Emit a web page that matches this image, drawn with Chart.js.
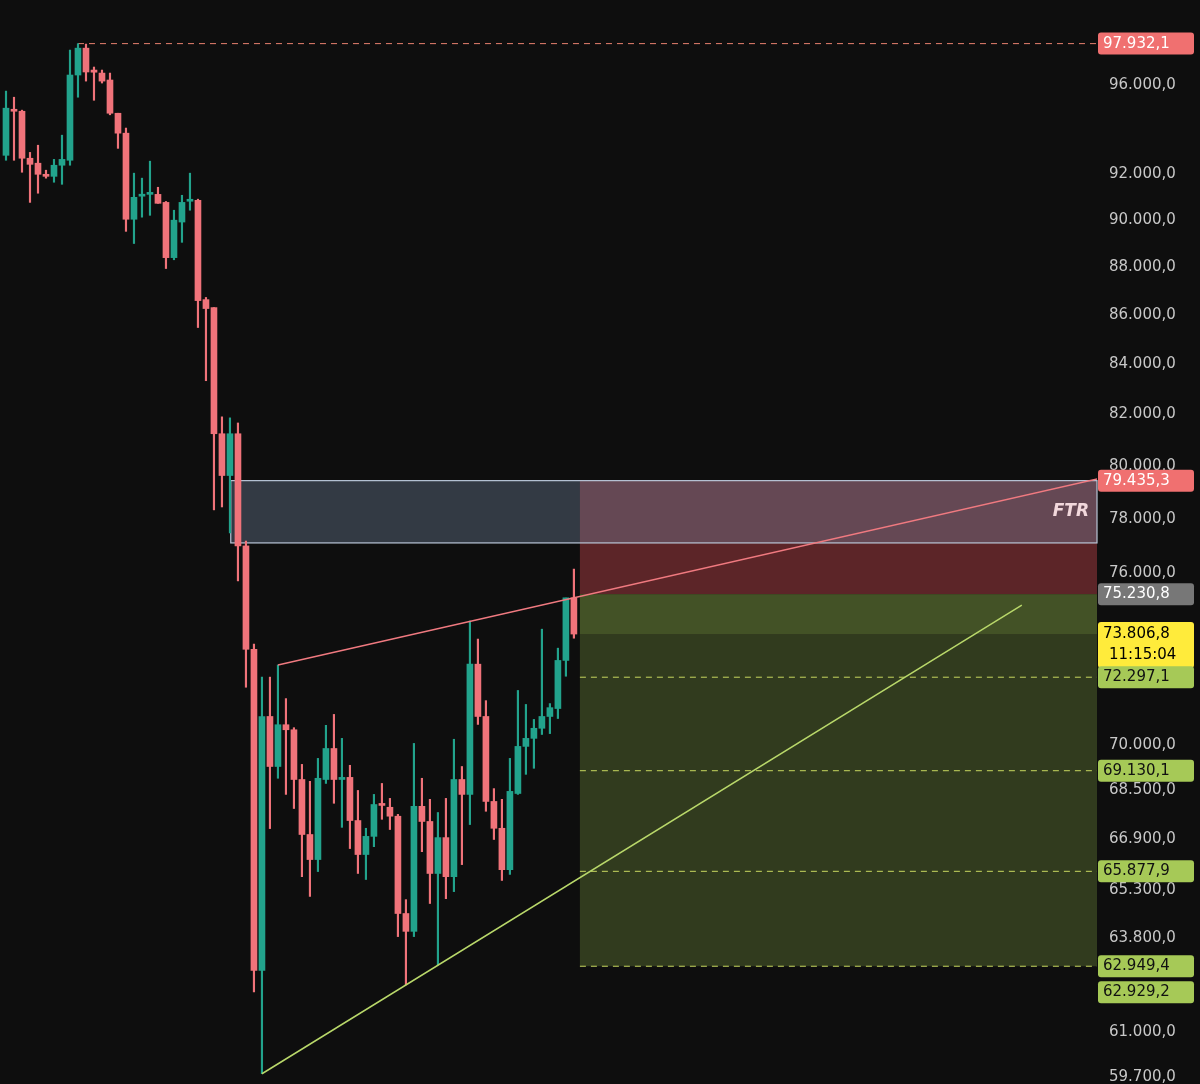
<!DOCTYPE html>
<html><head><meta charset="utf-8">
<script src="https://cdn.jsdelivr.net/npm/chart.js@4.4.0/dist/chart.umd.min.js"></script>
<style>html,body{margin:0;padding:0;background:#0e0e0e;overflow:hidden;}#w{width:1200px;height:1112px;margin-top:-13px;}</style>
</head><body><div id="w"><canvas id="c"></canvas></div>
<script>
const opens  =[92830,94860,94810,92700,92480,91990,91900,92390,92610,96470,97720,96700,96560,96240,94720,93820,90030,91030,91110,91110,90760,88390,89910,90810,90850,86630,86300,81240,79630,81240,76990,73270,62820,70950,69270,70670,70500,68840,67050,66250,68840,69870,68840,68910,67500,66410,66990,68020,67930,67640,64560,64010,67960,67470,65810,66950,65710,68840,68350,72750,70950,68120,67250,65930,68380,69940,70210,70550,70950,71220,72880,75100];
const highs  =[95730,95450,94860,92960,93280,92170,92650,93730,97630,97932,97910,96840,96700,96560,94720,94050,92040,91820,92570,91420,90800,90420,91070,92040,90900,86720,86300,81900,81860,81660,77170,73450,72300,72300,72720,71560,70570,69340,68780,69540,70650,71020,70210,69310,68480,67250,68350,68710,68220,67700,64990,70040,68880,68190,67760,68220,70180,69270,74270,73630,71490,68540,68190,69540,71840,71360,70850,73980,71390,73310,75090,76140];
const lows   =[92610,92610,92080,90760,91160,91820,91640,91550,92390,95450,96190,95310,96100,94650,93140,89510,88990,90120,90200,90720,87930,88300,89040,90420,85480,83330,78330,78440,77470,75710,71950,62180,59790,67240,68880,68350,67890,65710,65090,65870,68710,68060,67280,66600,65810,65620,66660,67540,67210,63850,62390,63850,66500,64870,62990,65020,65240,66090,67370,70680,67800,66890,65590,65780,68350,69010,69210,70340,70370,70880,72330,73660];
const closes =[94950,94810,92700,92430,91990,91900,92390,92650,96470,97720,96610,96600,96190,94720,93820,90030,90980,91080,91150,90720,88390,89990,90760,90850,86590,86260,81240,79630,81240,76990,73270,62820,70950,69270,70670,70500,68840,67050,66250,68880,69870,68840,68910,67500,66410,66990,68020,67990,67640,64560,64010,67960,67470,65810,66950,65710,68840,68350,72750,70950,68120,67250,65930,68450,69940,70210,70550,70950,71250,72880,75100,73807];
const yTicks=[96000,92000,90000,88000,86000,84000,82000,80000,78000,76000,70000,68500,66900,65300,63800,61000,59700];
const athLevel=97932.1, ftrTop=79435.3, ftrBottom=77100, entry=75230.8, lastPrice=73806.8;
const targets=[72297.1,69130.1,65877.9,62949.4];
const extraLevel=62929.2;
const upperLine=[{x:34,y:72720},{x:149.25,y:80390}];
const lowerLine=[{x:32,y:59790},{x:127,y:74840}];

const GREEN='#22a38c', RED='#f0737a';
const idx=opens.map((_,i)=>i);
const cols=idx.map(i=>closes[i]>=opens[i]?GREEN:RED);
const fmt=v=>{const s=v.toFixed(1).split('.');return s[0].replace(/\B(?=(\d{3})+(?!\d))/g,'.')+','+s[1];};

const zones={id:'zones',beforeDatasetsDraw(ch){
  const {ctx,chartArea:a,scales:{x,y}}=ch;
  const X0=x.getPixelForValue(71.75), R=a.right;
  const fx=x.getPixelForValue(28.1);
  ctx.save();
  ctx.fillStyle='rgba(140,52,56,0.62)';
  ctx.fillRect(X0,y.getPixelForValue(ftrTop),R-X0,y.getPixelForValue(entry)-y.getPixelForValue(ftrTop));
  ctx.fillStyle='rgba(78,96,44,0.55)';
  ctx.fillRect(X0,y.getPixelForValue(entry),R-X0,y.getPixelForValue(targets[3])-y.getPixelForValue(entry));
  ctx.fillStyle='rgba(100,125,55,0.35)';
  ctx.fillRect(X0,y.getPixelForValue(entry),R-X0,y.getPixelForValue(lastPrice)-y.getPixelForValue(entry));
  const t=y.getPixelForValue(ftrTop), b=y.getPixelForValue(ftrBottom);
  ctx.fillStyle='rgba(120,140,170,0.35)';
  ctx.fillRect(fx,t,R-fx,b-t);
  ctx.strokeStyle='#b9c6d8';ctx.lineWidth=1.2;ctx.strokeRect(fx,t,R-fx,b-t);
  ctx.fillStyle='#f2d8dc';ctx.font='italic bold 17px "DejaVu Sans"';ctx.textAlign='right';ctx.textBaseline='middle';
  ctx.fillText('FTR',R-8,(t+b)/2);
  ctx.setLineDash([6,5]);ctx.lineWidth=1;
  ctx.strokeStyle='#e8806f';
  let yy=y.getPixelForValue(athLevel);
  ctx.beginPath();ctx.moveTo(x.getPixelForValue(9),yy);ctx.lineTo(R,yy);ctx.stroke();
  ctx.strokeStyle='#c8d860';
  targets.forEach(v=>{const p=y.getPixelForValue(v);ctx.beginPath();ctx.moveTo(X0,p);ctx.lineTo(R,p);ctx.stroke();});
  ctx.restore();
}};
const labels={id:'labels',afterDraw(ch){
  const {ctx,chartArea:a,scales:{y}}=ch;
  ctx.save();
  ctx.font='15px "DejaVu Sans"';ctx.textAlign='left';ctx.textBaseline='middle';
  const box=(v,bg,fg,txt,h,yc)=>{const p=yc!==undefined?yc:y.getPixelForValue(v);
    ctx.fillStyle=bg;ctx.beginPath();ctx.roundRect(a.right+1,p-11,96,h||22,3);ctx.fill();
    ctx.fillStyle=fg;ctx.fillText(txt||fmt(v),a.right+6,p);};
  box(athLevel,'#f07070','#fff');
  box(ftrTop,'#f07070','#fff');
  box(entry,'#777','#fff');
  const lp=y.getPixelForValue(lastPrice);
  ctx.fillStyle='#ffeb3b';ctx.beginPath();ctx.roundRect(a.right+1,lp-12,96,46,3);ctx.fill();
  ctx.fillStyle='#000';ctx.fillText(fmt(lastPrice),a.right+6,lp);ctx.fillText('11:15:04',a.right+12,lp+21);
  targets.forEach(v=>box(v,'#a6c957','#111'));
  box(extraLevel,'#a6c957','#111',fmt(extraLevel),22,y.getPixelForValue(targets[3])+26);
  ctx.restore();
}};

new Chart(document.getElementById('c'),{
  type:'bar',
  data:{datasets:[
    {label:'wick',data:idx.map(i=>({x:i,y:[lows[i],highs[i]]})),backgroundColor:cols,barThickness:1.5,grouped:false,order:2},
    {label:'body',data:idx.map(i=>({x:i,y:[opens[i],closes[i]]})),backgroundColor:cols,barThickness:6,minBarLength:2,grouped:false,order:1},
    {type:'line',label:'upper',data:upperLine,borderColor:'#f07a80',borderWidth:1.5,pointRadius:0,order:0},
    {type:'line',label:'lower',data:lowerLine,borderColor:'#b9d86a',borderWidth:1.5,pointRadius:0,order:0}
  ]},
  options:{responsive:true,maintainAspectRatio:false,animation:false,
    plugins:{legend:{display:false},tooltip:{enabled:false}},
    scales:{
      x:{type:'linear',min:-0.75,max:136.4,offset:false,display:false,grid:{display:false}},
      y:{type:'logarithmic',position:'right',min:59440,max:100000,
        afterBuildTicks:s=>{s.ticks=yTicks.map(v=>({value:v}));},
        afterFit:s=>{s.width=103;},
        grid:{display:false},border:{display:false},
        ticks:{color:'#c8c8c8',font:{size:15,family:'DejaVu Sans'},padding:4,callback:v=>fmt(v)}}
    }},
  plugins:[zones,labels]
});
</script></body></html>
